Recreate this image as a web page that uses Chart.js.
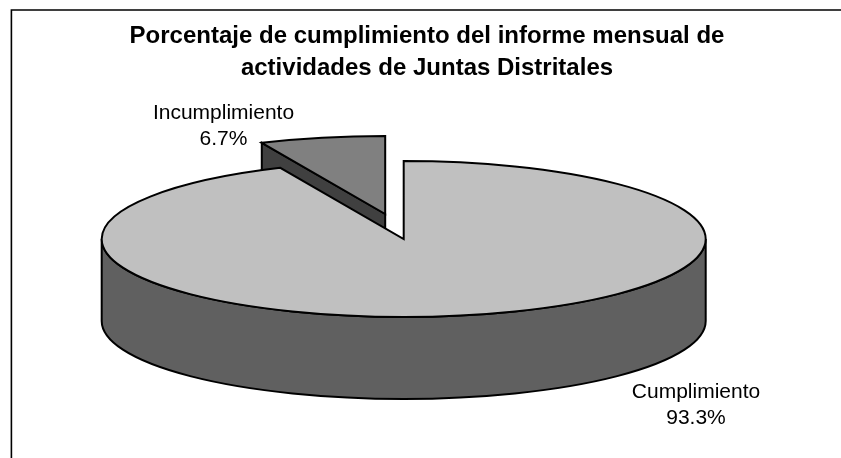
<!DOCTYPE html>
<html><head><meta charset="utf-8">
<style>html,body{margin:0;padding:0;background:#fff}canvas{display:block}</style>
<script src="https://cdn.jsdelivr.net/npm/chart.js@4/dist/chart.umd.min.js"></script>
</head><body><canvas id="c" width="841" height="458"></canvas>
<script>
const titleLines = ["Porcentaje de cumplimiento del informe mensual de", "actividades de Juntas Distritales"];
const categories = ["Cumplimiento", "Incumplimiento"];
const values = [93.3, 6.7];
const topColors = ["#C0C0C0", "#808080"];
const sideColors = ["#606060", "#404040"];

const G = {cx:403.7, cy:239, rx:302, ry:78, depth:82};
const explode = [[0,0],[-18.5,-25]];
const labelPos = [[696,392],[223.5,113]];
const FONT = '"Liberation Sans", Arial, sans-serif';

const pie3d = {
  id:'pie3d',
  beforeDatasetDraw(chart, args){
    const ctx = chart.ctx, arcs = chart.getDatasetMeta(args.index).data;
    const order = arcs.map((_,i)=>i).sort((a,b)=>b-a);
    ctx.save();
    ctx.lineWidth = 2; ctx.strokeStyle = '#000'; ctx.lineJoin = 'miter';
    for (const i of order){
      const {startAngle:s, endAngle:e} = arcs[i].getProps(['startAngle','endAngle'], true);
      const cx = G.cx + explode[i][0], cy = G.cy + explode[i][1];
      const pt = a => [cx + G.rx*Math.cos(a), cy + G.ry*Math.sin(a)];
      const face = (a) => {
        const p = pt(a);
        ctx.beginPath(); ctx.moveTo(cx,cy); ctx.lineTo(p[0],p[1]);
        ctx.lineTo(p[0],p[1]+G.depth); ctx.lineTo(cx,cy+G.depth); ctx.closePath();
        ctx.fillStyle = sideColors[i]; ctx.fill(); ctx.stroke();
      };
      if (Math.sin(s-Math.PI/2) > 1e-6) face(s);
      if (Math.sin(e+Math.PI/2) > 1e-6) face(e);
      // outer wall: the front half of the ellipse that belongs to this slice
      const a0 = Math.max(s,0), a1 = Math.min(e,Math.PI);
      if (a1 > a0){
        ctx.beginPath();
        ctx.ellipse(cx,cy,G.rx,G.ry,0,a0,a1);
        ctx.ellipse(cx,cy+G.depth,G.rx,G.ry,0,a1,a0,true);
        ctx.closePath();
        ctx.fillStyle = sideColors[i]; ctx.fill(); ctx.stroke();
      }
      // top surface
      ctx.beginPath(); ctx.moveTo(cx,cy);
      ctx.ellipse(cx,cy,G.rx,G.ry,0,s,e);
      ctx.closePath();
      ctx.fillStyle = topColors[i]; ctx.fill(); ctx.stroke();
    }
    ctx.restore();
    return false;
  },
  afterDraw(chart){
    const ctx = chart.ctx;
    ctx.save();
    // chart frame
    ctx.strokeStyle = '#000'; ctx.lineWidth = 1.6;
    ctx.beginPath(); ctx.moveTo(11.4,458); ctx.lineTo(11.4,10); ctx.lineTo(841,10); ctx.stroke();
    // slice labels
    ctx.fillStyle = '#000'; ctx.font = '21px '+FONT;
    ctx.textAlign = 'center'; ctx.textBaseline = 'middle';
    categories.forEach((c,i)=>{
      ctx.fillText(c, labelPos[i][0], labelPos[i][1]);
      ctx.fillText(values[i].toFixed(1)+'%', labelPos[i][0], labelPos[i][1]+26.5);
    });
    ctx.restore();
  }
};

new Chart(document.getElementById('c'), {
  type:'pie',
  data:{labels:categories, datasets:[{data:values, backgroundColor:topColors, borderColor:'#000'}]},
  plugins:[pie3d],
  options:{
    responsive:false, animation:false,
    layout:{padding:{left:13,top:0}},
    plugins:{
      legend:{display:false}, tooltip:{enabled:false},
      title:{display:true, text:titleLines, color:'#000',
        font:{family:FONT, size:24, weight:'bold', lineHeight:1.33},
        padding:{top:20,bottom:10}}
    }
  }
});
</script></body></html>
